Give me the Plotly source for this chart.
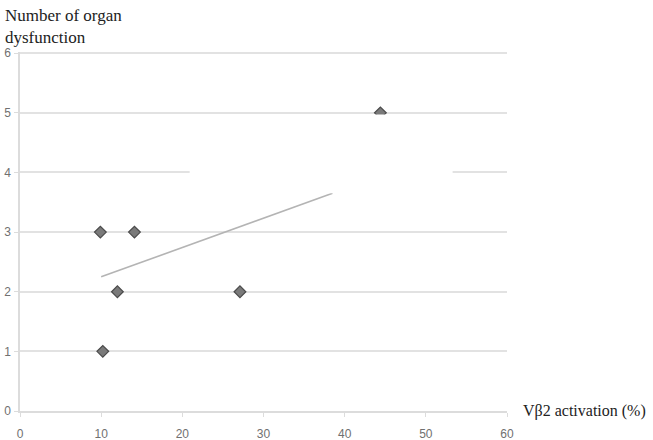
import plotly.graph_objects as go

# Data
activation = [9.9, 14.1, 12.0, 27.1, 10.2, 44.4]
organ_dysfunction = [3, 3, 2, 2, 1, 5]
trend_x = [10.0, 38.5]
trend_y = [2.25, 3.65]
x_ticks = [0, 10, 20, 30, 40, 50, 60]
y_ticks = [0, 1, 2, 3, 4, 5, 6]

W, H = 653, 440
L, R, T, B = 20, 146, 52, 29
YMAX = 6.02

fig = go.Figure()
fig.add_trace(go.Scatter(
    x=trend_x, y=trend_y, mode="lines",
    line=dict(color="#b4b4b4", width=1.6), hoverinfo="skip", showlegend=False))
fig.add_trace(go.Scatter(
    x=activation, y=organ_dysfunction, mode="markers",
    marker=dict(symbol="diamond", size=9, color="#7a7a7a",
                line=dict(color="#4a4a4a", width=1.2)),
    showlegend=False))

# white box covering part of the chart (as in the reference)
fig.add_shape(type="rect", xref="x", yref="y", x0=20.9, x1=53.3, y0=3.65, y1=4.97,
              fillcolor="white", line=dict(width=0), layer="above")

fig.update_layout(
    width=W, height=H,
    margin=dict(l=L, r=R, t=T, b=B, pad=0, autoexpand=False),
    paper_bgcolor="white", plot_bgcolor="white",
    font=dict(family="Liberation Sans, Arial, sans-serif", color="#707070", size=11),
    xaxis=dict(range=[0, 60], tickvals=x_ticks, showgrid=False, zeroline=False,
               automargin=False,
               showline=True, linecolor="#dcdcdc", linewidth=1.5,
               ticks="outside", ticklen=4, tickcolor="#dcdcdc",
               tickfont=dict(size=12, color="#707070"), ticklabelstandoff=7),
    yaxis=dict(range=[0, YMAX], tickvals=y_ticks, showgrid=True, gridcolor="#e2e2e2",
               automargin=False,
               gridwidth=1.5, zeroline=False, showline=True, linecolor="#dcdcdc",
               linewidth=1.5, ticks="outside", ticklen=4, tickcolor="#dcdcdc",
               tickfont=dict(size=12, color="#707070"), ticklabelstandoff=1),
    annotations=[
        dict(text="Number of organ<br>dysfunction", xref="paper", yref="paper",
             x=-(L - 3) / (W - L - R), y=1 + (T - 4) / (H - T - B),
             xanchor="left", yanchor="top", align="left", showarrow=False,
             font=dict(family="Liberation Serif, Times New Roman, serif", size=17, color="#222222")),
        dict(text="Vβ2 activation (%)", xref="paper", yref="y",
             x=1 + 14 / (W - L - R), y=0, xanchor="left", yanchor="middle",
             showarrow=False,
             font=dict(family="Liberation Serif, Times New Roman, serif", size=16, color="#222222")),
    ],
)

fig.write_html("out.html", config={"displayModeBar": False},
               post_script="document.body.style.margin='0';document.body.style.overflow='hidden';")
